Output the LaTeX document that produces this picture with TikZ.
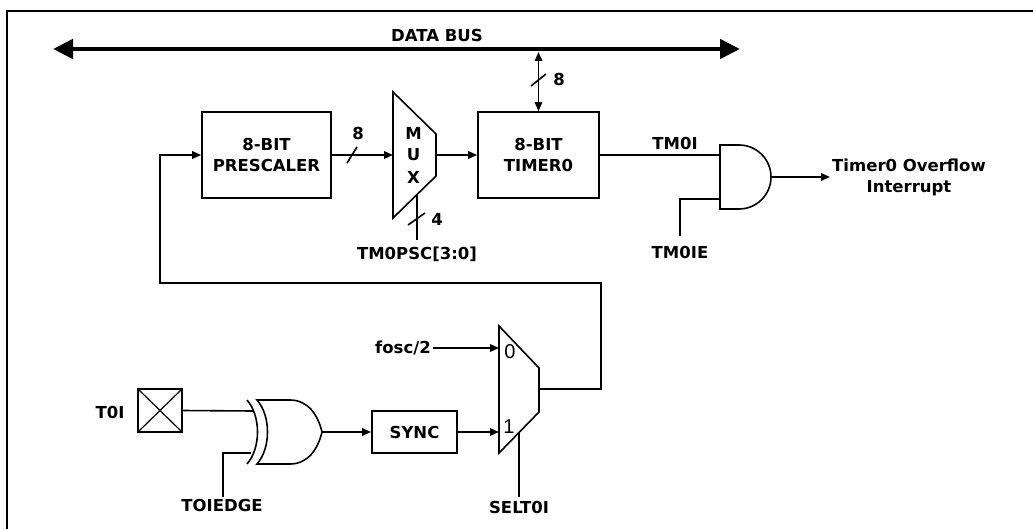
\documentclass[tikz,border=0pt]{standalone}
\usepackage{fontspec}
\setmainfont{DejaVu Sans}
\newfontfamily\digitfont{Liberation Sans}
\usetikzlibrary{arrows.meta}
\begin{document}
\begin{tikzpicture}[x=1pt,y=-1pt,
  wire/.style={line width=1.6pt},
  sig/.style={wire,-{Triangle[length=9pt,width=7.5pt]}},
  bisig/.style={wire,{Triangle[length=9pt,width=7.5pt]}-{Triangle[length=9pt,width=7.5pt]}},
  bus/.style={line width=4.5pt,{Triangle[length=20pt,width=19pt]}-{Triangle[length=20pt,width=19pt]}},
  blk/.style={draw,line width=1.6pt,align=center,inner sep=0pt,
    font=\fontsize{16.5}{21}\selectfont\bfseries},
  lbl/.style={inner sep=0pt,align=center,font=\fontsize{16.5}{21}\selectfont\bfseries},
  muxnum/.style={inner sep=0pt,font=\fontsize{20}{22}\selectfont\digitfont},
  gate/.style={line width=1.6pt,line join=miter}
]
\useasboundingbox (0,0) rectangle (1033,529);
% frame
\draw[line width=2.5pt] (7,529) -- (7,11) -- (1033,11);

% data bus
\coordinate (busL) at (53,49);
\coordinate (busR) at (740,49);
\draw[bus] (busL) -- (busR);
\node[lbl] (busname) at (437,35) {DATA BUS};

% blocks
\node[blk,minimum width=129pt,minimum height=86pt] (pre) at (266.5,155) {8-BIT\\PRESCALER};
\node[blk,minimum width=121pt,minimum height=86pt] (tmr) at (538.5,155) {8-BIT\\TIMER0};

% bus to timer
\coordinate (tap) at (538.5,52);
\draw[bisig] (tap) -- (tmr.north);
\draw[wire] (531,86) -- (546,74);
\node[lbl] (w8b) at (559,79) {8};

% mux 1
\coordinate (m1a) at (393,92);
\coordinate (m1b) at (436,134);
\coordinate (m1c) at (436,176);
\coordinate (m1d) at (393,218);
\draw[gate] (m1a) -- (m1b) -- (m1c) -- (m1d) -- cycle;
\node[lbl] (mM) at (413.5,133) {M};
\node[lbl] (mU) at (413.5,155) {U};
\node[lbl] (mX) at (413.5,177) {X};
\coordinate (m1in) at (393,155);
\coordinate (m1out) at (436,155);
\draw[sig] (pre.east) -- (m1in);
\draw[wire] (347,163) -- (357,147);
\node[lbl] (w8a) at (358,133) {8};
\draw[sig] (m1out) -- (tmr.west);
\coordinate (m1sel) at (417,194.6);
\coordinate (m1selend) at (417,240);
\draw[wire] (m1sel) -- (m1selend);
\draw[wire] (408,225) -- (425,213);
\node[lbl] (w4) at (437,219) {4};
\node[lbl] (psc) at (417,254) {TM0PSC[3:0]};

% AND gate
\coordinate (andA) at (720,155);
\coordinate (andB) at (720,199);
\coordinate (andOut) at (771,177);
\draw[gate] (720,145) -- (739,145) arc[start angle=90,end angle=-90,radius=32pt] -- (720,209) -- cycle;
\draw[wire] (tmr.east) -- (andA);
\node[lbl] (tm0i) at (675,143) {TM0I};
\coordinate (tm0ieEnd) at (680,236);
\draw[wire] (tm0ieEnd) |- (andB);
\node[lbl] (tm0ie) at (680,252) {TM0IE};
\node[lbl,anchor=west] (intr) at (832,177) {Timer0 Overflow\\Interrupt};
\draw[sig] (andOut) -- (830,177);

% mux 2
\coordinate (m2a) at (499,326);
\coordinate (m2b) at (539,368);
\coordinate (m2c) at (539,412);
\coordinate (m2d) at (499,453);
\draw[gate] (m2a) -- (m2b) -- (m2c) -- (m2d) -- cycle;
\coordinate (in0) at (499,348);
\coordinate (in1) at (499,432);
\coordinate (m2out) at (539,389);
\node[muxnum] (n0) at (510,352) {0};
\node[muxnum] (n1) at (509,427) {1};
\coordinate (m2sel) at (519,432.5);
\coordinate (m2selend) at (519,497);
\draw[wire] (m2sel) -- (m2selend);
\node[lbl] (selt0i) at (519,507) {SELT0I};

% fosc/2
\node[lbl,anchor=east] (fosc) at (431,348) {fosc/2};
\draw[sig] (fosc.east) ++(2,0) -- (in0);

% feedback
\coordinate (fb1) at (601,283);
\coordinate (fb2) at (160,283);
\draw[sig] (m2out) -| (fb1) -- (fb2) |- (pre.west);

% sync
\node[blk,minimum width=85pt,minimum height=42pt] (sync) at (414.5,432) {SYNC};
\draw[sig] (sync.east) -- (in1);

% XOR gate
\draw[gate] (247,400) .. controls (261,416) and (261,448) .. (247,464);
\draw[gate] (257,400) .. controls (271,416) and (271,448) .. (257,464)
  -- (290,464) .. controls (308,464) and (318,449) .. (322,432)
  .. controls (318,415) and (308,400) .. (290,400) -- cycle;
\coordinate (xorOut) at (322,432);
\coordinate (xA) at (253,411);
\coordinate (xB) at (251,453);
\draw[sig] (xorOut) -- (sync.west);

% T0I pad
\node[draw,line width=1.6pt,minimum width=44pt,minimum height=43pt,inner sep=0pt,outer sep=0pt] (pad) at (160,410.5) {};
\draw[line width=1.2pt] (pad.north west) -- (pad.south east);
\draw[line width=1.2pt] (pad.north east) -- (pad.south west);
\node[lbl] (t0i) at (110,412) {T0I};
\draw[wire] (pad.east) -- (xA);
\coordinate (teEnd) at (223,497);
\draw[wire] (teEnd) |- (xB);
\node[lbl] (toiedge) at (222,505) {TOIEDGE};
\end{tikzpicture}
\end{document}
